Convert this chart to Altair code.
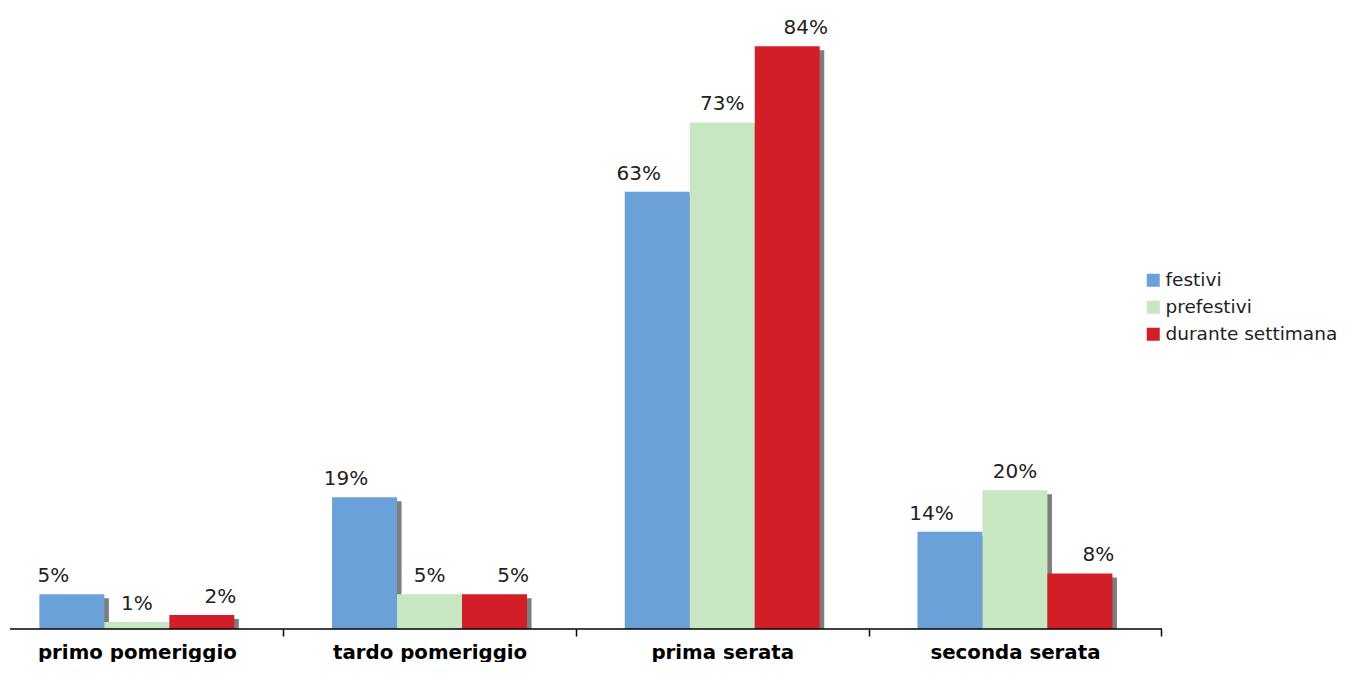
import altair as alt
import pandas as pd

categories = ["primo pomeriggio", "tardo pomeriggio", "prima serata", "seconda serata"]
series = ["festivi", "prefestivi", "durante settimana"]
festivi = [5, 19, 63, 14]
prefestivi = [1, 5, 73, 20]
durante = [2, 5, 84, 8]
colors = ["#6aa1d8", "#c8e6c2", "#d21f27"]

rows = []
for s, vals in zip(series, [festivi, prefestivi, durante]):
    for c, v in zip(categories, vals):
        rows.append({"categoria": c, "serie": s, "valore": v, "label": f"{v}%"})
df = pd.DataFrame(rows)

W, H = 1152, 612
FONT = "DejaVu Sans"
STEP = 292.7
SHIFT = 4.5

x_enc = alt.X("categoria:N", sort=categories, title=None,
              scale=alt.Scale(range=[-19.5, -19.5 + 4 * STEP], paddingInner=0, paddingOuter=0),
              axis=alt.Axis(domain=False, tickBand="extent", tickColor="black", tickSize=7,
                            tickWidth=1.5, labelFont=FONT, labelFontSize=19.8, labelFontWeight="bold",
                            labelColor="black", labelPadding=22, labelBaseline="alphabetic",
                            labelAngle=0, labelLimit=0))
xo_enc = alt.XOffset("serie:N", sort=series,
                     scale=alt.Scale(paddingInner=0, paddingOuter=0.752))
xo_shadow = alt.XOffset("serie:N", sort=series,
                        scale=alt.Scale(range=[SHIFT, STEP + SHIFT], paddingInner=0, paddingOuter=0.752))
y_enc = alt.Y("valore:Q", scale=alt.Scale(domain=[0, 88.2], nice=False), axis=None, title=None)

base = alt.Chart(df)

shadow = base.mark_bar(color="#7d7d7d", yOffset=4, y2Offset=0).encode(
    x=x_enc, xOffset=xo_shadow, y=y_enc, y2=alt.datum(0))

bars = base.mark_bar().encode(
    x=x_enc, xOffset=xo_enc, y=y_enc,
    color=alt.Color("serie:N", sort=series,
                    scale=alt.Scale(domain=series, range=colors),
                    legend=alt.Legend(title=None, orient="none", legendX=1134, legendY=254,
                                      symbolType="square", symbolSize=169, symbolStrokeWidth=0,
                                      labelFont=FONT, labelFontSize=18.5, labelColor="#222222",
                                      rowPadding=8, labelOffset=3, labelLimit=0)))

labels = base.mark_text(baseline="alphabetic", dy=-12, font=FONT, fontSize=20, color="#222222").encode(
    x=x_enc, xOffset=xo_enc, y=y_enc, text="label:N")

axis_line = alt.Chart(pd.DataFrame({"a": [0]})).mark_rule(color="black", strokeWidth=1.5).encode(
    x=alt.value(0), x2=alt.value(W), y=alt.value(H))

chart = alt.layer(shadow, bars, labels, axis_line).resolve_scale(xOffset="independent").properties(
    width=W, height=H,
    padding={"left": 2, "top": 9, "right": 184, "bottom": 33},
    autosize=alt.AutoSizeParams(type="none"),
).configure(background="white").configure_view(strokeWidth=0)

chart.save("out.html", embed_options={"renderer": "svg", "actions": False})
